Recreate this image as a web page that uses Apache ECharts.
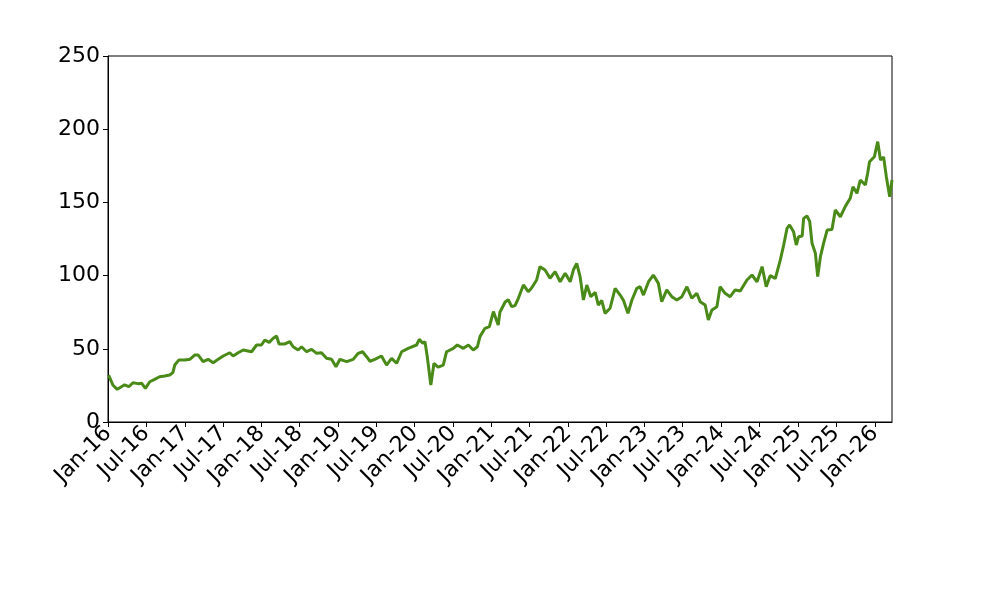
<!DOCTYPE html>
<html>
<head>
<meta charset="utf-8">
<script src="https://cdn.jsdelivr.net/npm/echarts@6/dist/echarts.min.js"></script>
<style>html,body{margin:0;padding:0;background:#fff;}#chart{width:1000px;height:600px;}</style>
</head>
<body>
<div id="chart"></div>
<script>
const dates = [
'2016-01-04','2016-01-24','2016-02-14','2016-03-05','2016-03-20','2016-04-09','2016-04-29','2016-05-23','2016-06-09','2016-06-27',
'2016-07-18','2016-08-10','2016-09-03','2016-09-27','2016-10-21','2016-11-05','2016-11-14','2016-12-03','2017-01-01','2017-01-25',
'2017-02-18','2017-03-05','2017-03-29','2017-04-22','2017-05-16','2017-06-09','2017-07-03','2017-08-03','2017-08-19','2017-09-12',
'2017-10-06','2017-11-15','2017-12-09','2018-01-01','2018-01-17','2018-02-07','2018-02-26','2018-03-14','2018-03-26','2018-04-23',
'2018-05-16','2018-06-01','2018-06-25','2018-07-11','2018-08-04','2018-08-28','2018-09-21','2018-10-14','2018-11-07','2018-12-01',
'2018-12-22','2019-01-10','2019-02-11','2019-03-14','2019-04-07','2019-04-28','2019-05-17','2019-06-02','2019-06-25','2019-07-27',
'2019-08-20','2019-09-13','2019-10-07','2019-10-31','2019-12-01','2020-01-10','2020-01-23','2020-02-08','2020-02-19','2020-03-01',
'2020-03-18','2020-04-02','2020-04-22','2020-05-16','2020-06-01','2020-07-03','2020-07-22','2020-08-20','2020-09-13','2020-10-06',
'2020-10-26','2020-11-07','2020-12-01','2020-12-22','2021-01-10','2021-02-02','2021-02-10','2021-03-07','2021-03-22','2021-04-07',
'2021-04-23','2021-05-09','2021-06-02','2021-06-25','2021-07-11','2021-08-04','2021-08-20','2021-09-13','2021-10-07','2021-10-31',
'2021-11-24','2021-12-18','2022-01-11','2022-01-26','2022-02-11','2022-02-27','2022-03-15','2022-03-31','2022-04-19','2022-05-10',
'2022-05-25','2022-06-10','2022-06-26','2022-07-20','2022-08-13','2022-09-06','2022-09-22','2022-10-13','2022-11-01','2022-11-24',
'2022-12-10','2022-12-26','2023-01-19','2023-02-11','2023-03-07','2023-03-23','2023-04-16','2023-05-10','2023-06-03','2023-06-27',
'2023-07-21','2023-08-13','2023-09-06','2023-09-22','2023-10-16','2023-10-31','2023-11-17','2023-12-11','2023-12-26','2024-01-19',
'2024-02-12','2024-03-07','2024-03-31','2024-05-02','2024-05-26','2024-06-19','2024-07-13','2024-08-02','2024-08-21','2024-09-14',
'2024-10-08','2024-10-24','2024-11-09','2024-11-21','2024-12-10','2024-12-23','2025-01-03','2025-01-20','2025-01-27','2025-02-12',
'2025-02-25','2025-03-08','2025-03-24','2025-04-04','2025-04-17','2025-05-02','2025-05-19','2025-06-11','2025-06-27','2025-07-21',
'2025-08-13','2025-09-06','2025-09-19','2025-10-08','2025-10-24','2025-11-17','2025-11-28','2025-12-07','2025-12-30','2026-01-15',
'2026-01-28','2026-02-12','2026-02-25','2026-03-13','2026-03-24'
];
const prices = [
32,25.3,22.3,24.1,25.4,24.1,26.8,26.2,26.5,23.0,
27.5,29.1,30.9,31.4,32.1,33.7,38.9,42.3,42.3,42.8,
45.8,45.8,41.2,42.8,40.5,42.8,45.1,47.3,45.1,47.3,
49.2,48.0,52.6,52.6,56.0,54.4,57.2,58.7,53.3,53.3,
54.9,51.4,49.2,51.4,48.0,49.6,46.9,47.3,43.5,42.8,
37.8,42.8,41.2,42.8,46.9,48.0,44.6,41.5,42.8,45.1,
38.9,43.5,40.1,48.0,50.3,52.6,56.5,53.8,54.9,44.6,
25.3,40.1,37.4,38.9,48.0,50.3,52.6,50.3,52.6,49.2,
51.4,58.3,64.0,65.1,75.4,66.3,75,82,83.5,78.8,
79.5,84.5,93.6,89.0,91.5,97.0,106.1,103.8,98.2,102.7,
95.8,101.6,95.8,103.8,108.4,99.3,83.3,93.6,85.6,88.5,
79.9,83.0,74.2,77.7,91.3,86.7,83.0,74.2,83.3,91.3,
92.4,86.7,95.8,100.4,94.7,82.2,90.2,85.6,83.3,85.6,
92.4,84.5,87.9,82.2,79.9,69.7,76.5,78.8,92.4,87.9,
85.6,90.2,89.5,97.0,100.4,95.8,106.1,92.4,100,98,
110.7,120.9,132.3,134.6,130.0,120.9,126.6,127,139.1,140.7,
137,122.1,115.2,99.3,112.9,122,131.1,131.5,144.8,140.2,
147.1,152.8,160.7,156.2,165.3,161.9,169.9,177.8,181.2,191.5,
179,181,167.6,153.9,165.3
];
const yTicks = [0, 50, 100, 150, 200, 250];
const xTickMonths = [];
for (let y = 2016; y <= 2026; y++) {
  xTickMonths.push(new Date(y, 0, 1).getTime());
  if (y < 2026) xTickMonths.push(new Date(y, 6, 1).getTime());
}
const monthNames = ['Jan','Feb','Mar','Apr','May','Jun','Jul','Aug','Sep','Oct','Nov','Dec'];
function parseDate(s){ const p = s.split('-').map(Number); return new Date(p[0], p[1]-1, p[2]).getTime(); }
const seriesData = dates.map((d, i) => [parseDate(d), prices[i]]);
const xMin = new Date(2016, 0, 1).getTime();
const xMax = parseDate(dates[dates.length - 1]);

const chart = echarts.init(document.getElementById('chart'), null, {renderer: 'canvas'});
chart.setOption({
  animation: false,
  backgroundColor: '#ffffff',
  grid: {left: 108, right: 108, top: 56, bottom: 178, show: true, borderColor: '#000', borderWidth: 1, backgroundColor: 'transparent'},
  xAxis: {
    type: 'value',
    min: xMin,
    max: xMax,
    axisLine: {show: true, lineStyle: {color: '#000', width: 1}},
    axisTick: {show: true, length: 5, lineStyle: {color: '#000'}, customValues: xTickMonths},
    splitLine: {show: false},
    axisLabel: {
      customValues: xTickMonths,
      rotate: 45,
      margin: 8,
      color: '#000',
      fontSize: 22,
      fontFamily: 'DejaVu Sans',
      hideOverlap: false,
      formatter: function (v) {
        const d = new Date(v);
        return monthNames[d.getMonth()] + '-' + String(d.getFullYear()).slice(2);
      }
    }
  },
  yAxis: {
    type: 'value',
    min: yTicks[0],
    max: yTicks[yTicks.length - 1],
    interval: 50,
    axisLine: {show: true, lineStyle: {color: '#000', width: 1}},
    axisTick: {show: true, length: 5, lineStyle: {color: '#000'}},
    splitLine: {show: false},
    axisLabel: {color: '#000', fontSize: 22, fontFamily: 'DejaVu Sans', margin: 8}
  },
  series: [{
    type: 'line',
    data: seriesData,
    showSymbol: false,
    symbol: 'none',
    lineStyle: {color: '#4a8a18', width: 3},
    clip: true
  }]
});
</script>
</body>
</html>
